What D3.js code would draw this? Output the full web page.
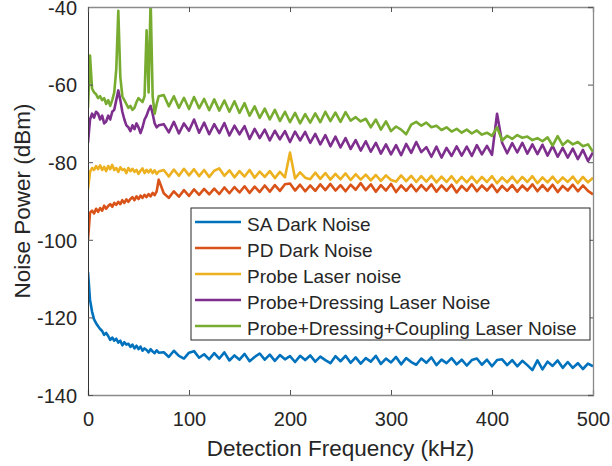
<!DOCTYPE html>
<html>
<head>
<meta charset="utf-8">
<script src="https://cdn.jsdelivr.net/npm/d3@7"></script>
<style>
  body { margin: 0; background: #fff; }
  text { font-family: "Liberation Sans", Arial, sans-serif; fill: #262626; }
</style>
</head>
<body>
<div id="chart"></div>
<script>
// sample frequencies (kHz), finer below 70 kHz where the spikes are
var freq = [0,2,4,6,8,10,12,14,16,18,
  20,22,24,26,28,30,32,34,36,38,
  40,42,44,46,48,50,52,54,56,58,
  60,62,64,66,68,70,
  75,80,85,90,95,100,105,110,115,120,
  125,130,135,140,145,150,155,160,165,170,
  175,180,185,190,195,200,205,210,215,220,
  225,230,235,240,245,250,255,260,265,270,
  275,280,285,290,295,300,305,310,315,320,
  325,330,335,340,345,350,355,360,365,370,
  375,380,385,390,395,400,405,410,415,420,
  425,430,435,440,445,450,455,460,465,470,
  475,480,485,490,495,500];

var saDark = [-108.3,-115.5,-118.5,-120.5,-121.5,-122.3,-123,-123.5,-124.5,-124,
  -124.8,-125.8,-125.2,-126,-125.5,-126.5,-126,-127.2,-126.4,-127,
  -126.8,-127.6,-127,-128,-127.3,-128.2,-127.5,-128.6,-128,-128.4,
  -129,-128.2,-128.8,-129.2,-128.5,-129.1,
  -129.0,-130.2,-128.6,-129.9,-130.6,-129.1,-128.7,-130.4,-129.5,-130.8,
  -129.2,-130.6,-129.0,-131.1,-129.8,-130.9,-129.4,-131.3,-130.2,-129.3,
  -130.9,-129.6,-131.2,-129.7,-130.8,-130.0,-131.5,-129.9,-131.0,-129.8,
  -131.4,-130.1,-131.0,-131.8,-130.0,-131.3,-129.9,-131.7,-130.3,-131.9,
  -130.5,-131.4,-129.9,-132.0,-130.6,-131.6,-130.2,-132.1,-130.5,-131.5,
  -132.2,-130.6,-131.7,-130.3,-132.3,-130.9,-131.8,-130.5,-132.1,-130.9,
  -132.4,-131.0,-130.6,-132.2,-130.9,-132.6,-131.0,-130.8,-132.3,-131.0,
  -132.6,-131.2,-132.3,-133.6,-131.1,-133.4,-131.4,-132.5,-131.1,-133.0,
  -131.5,-133.0,-131.8,-133.3,-131.9,-132.6];

var pdDark = [-100,-93,-92.5,-93.2,-92,-92.8,-91.8,-92.5,-91.2,-92,
  -91.3,-90.8,-91.5,-90.5,-91,-90.2,-90.8,-89.8,-90.5,-89.6,
  -90.2,-89.5,-89,-89.8,-88.8,-89.5,-88.6,-89.2,-88.4,-89,
  -88.2,-88.8,-87.9,-88.5,-87.5,-84.5,
  -88.0,-89.2,-87.5,-88.9,-87.2,-88.7,-87.0,-88.4,-86.9,-88.3,
  -86.8,-88.2,-86.5,-88.0,-86.4,-87.8,-86.2,-87.9,-86.3,-87.7,
  -86.0,-87.6,-85.9,-87.4,-85.7,-85.5,-87.3,-85.8,-87.5,-86.0,
  -87.4,-85.7,-87.2,-85.6,-87.3,-85.9,-87.5,-85.8,-87.1,-85.4,
  -87.2,-85.7,-87.6,-85.9,-87.3,-85.6,-87.7,-86.0,-87.4,-85.8,
  -87.5,-85.9,-87.3,-85.7,-87.6,-86.0,-87.4,-85.8,-87.8,-86.1,
  -87.4,-85.7,-87.5,-86.0,-87.3,-85.8,-87.7,-86.1,-87.4,-85.9,
  -87.6,-86.0,-87.3,-85.7,-87.5,-85.9,-87.4,-85.8,-87.7,-86.1,
  -87.3,-85.8,-87.5,-86.0,-87.4,-88.3];

var probe = [-87,-82.5,-81.5,-82,-81,-81.8,-80.8,-82,-81.2,-82.3,
  -81,-81.8,-80.7,-82,-81.5,-82.5,-81.3,-82,-81.8,-82.8,
  -81.5,-82.3,-81.7,-82.5,-82,-83,-82.2,-81.6,-82.8,-82,
  -82.6,-81.9,-82.8,-82.1,-83,-82.4,
  -82.0,-83.7,-81.9,-83.5,-81.7,-83.4,-81.8,-83.6,-82.0,-83.8,
  -82.2,-81.6,-83.5,-82.1,-83.9,-82.3,-83.7,-82.0,-84.0,-82.4,
  -83.8,-82.3,-84.1,-82.5,-83.9,-77.5,-84.2,-82.6,-84.0,-84.4,
  -82.7,-84.3,-82.8,-84.5,-83.0,-84.4,-82.9,-84.6,-83.1,-84.5,
  -83.2,-84.7,-83.3,-84.8,-83.4,-84.6,-85.0,-83.4,-84.9,-83.5,
  -85.1,-83.6,-85.0,-83.5,-85.2,-83.7,-85.1,-83.6,-85.3,-83.8,
  -85.2,-83.7,-85.3,-83.8,-85.1,-83.6,-85.4,-83.9,-85.2,-83.7,
  -85.3,-83.8,-85.1,-83.6,-85.4,-83.9,-85.2,-83.7,-85.3,-83.9,
  -85.1,-83.7,-85.4,-83.8,-85.2,-84.0];

var probeDressing = [-75,-69,-67.5,-68.5,-67,-67.5,-69,-68,-70,-69.5,
  -68,-69,-67,-66.5,-64,-61.5,-64,-67,-69,-70.5,
  -71,-72,-70.5,-71.5,-70,-71,-72.5,-71,-69,-68,
  -66.5,-65.5,-67.5,-70,-71,-70.5,
  -70.2,-72.3,-69.6,-72.6,-70.0,-71.9,-69.0,-72.4,-69.8,-72.8,
  -70.2,-72.5,-69.9,-73.1,-70.6,-72.8,-70.7,-74.0,-71.4,-73.8,
  -71.6,-74.4,-71.9,-74.1,-72.0,-74.8,-72.1,-74.4,-72.2,-75.0,
  -72.7,-75.4,-73.0,-75.9,-73.4,-76.2,-73.8,-76.6,-74.3,-77.0,
  -74.6,-77.3,-75.0,-77.8,-75.4,-78.0,-75.6,-78.2,-75.3,-77.6,
  -74.8,-77.4,-76.1,-78.6,-76.0,-78.8,-76.3,-78.4,-75.9,-78.3,
  -76.0,-78.4,-75.6,-78.0,-75.8,-78.1,-67.5,-75.0,-77.7,-75.1,
  -77.5,-75.0,-77.8,-75.4,-77.9,-75.5,-78.3,-75.8,-78.6,-76.3,
  -78.8,-76.5,-79.2,-76.8,-79.7,-77.5];

var probeDressingCoupling = [-66,-52.5,-61,-62,-62.5,-63.5,-63,-64,-63.5,-65,
  -64,-65.5,-64,-62,-56,-41,-58,-63,-64,-65,
  -66,-65.5,-66.5,-66,-64.5,-63.5,-64,-64.5,-63,-46,
  -62,-38,-63,-67.5,-65,-63,
  -62.7,-65.6,-63.0,-66.0,-63.4,-66.3,-63.2,-66.1,-63.7,-66.6,
  -63.8,-66.7,-64.1,-67.0,-64.3,-67.3,-64.8,-68.0,-65.6,-68.6,
  -66.2,-69.0,-66.5,-69.4,-67.0,-69.7,-67.3,-70.0,-67.6,-69.8,
  -67.4,-69.7,-67.0,-69.4,-67.2,-69.6,-67.1,-69.3,-68.4,-69.5,
  -68.8,-71.0,-69.0,-71.6,-69.5,-72.0,-70.8,-71.6,-72.8,-70.3,
  -69.6,-70.6,-69.8,-71.0,-70.6,-71.7,-71.0,-72.1,-71.4,-72.4,
  -71.6,-72.6,-71.8,-72.9,-72.4,-73.2,-71.0,-74.4,-73.2,-74.0,
  -73.0,-73.7,-73.4,-74.3,-73.8,-74.6,-73.6,-75.7,-73.3,-75.6,
  -74.4,-75.4,-74.8,-75.9,-75.4,-77.3];

var seriesNames = ["SA Dark Noise", "PD Dark Noise", "Probe Laser noise",
  "Probe+Dressing Laser Noise", "Probe+Dressing+Coupling Laser Noise"];
var xTicks = [0, 100, 200, 300, 400, 500];
var yTicks = [-140, -120, -100, -80, -60, -40];

var allSeries = [saDark, pdDark, probe, probeDressing, probeDressingCoupling];
var colors = ["#0072BD", "#D95319", "#EDB120", "#7E2F8E", "#77AC30"];

var width = 612;
var height = 466;
var margin = { top: 7, left: 88, right: 19, bottom: 71 };
var plotWidth = width - margin.left - margin.right;
var plotHeight = height - margin.top - margin.bottom;

var svg = d3.select("#chart")
  .append("svg")
    .attr("width", width)
    .attr("height", height);

var g = svg.append("g")
  .attr("transform", "translate(" + margin.left + "," + margin.top + ")");

var x = d3.scaleLinear()
  .domain([0, 500])
  .range([0, plotWidth]);

var y = d3.scaleLinear()
  .domain([-140, -40])
  .range([plotHeight, 0]);

g.append("clipPath")
  .attr("id", "plot-clip")
  .append("rect")
    .attr("width", plotWidth)
    .attr("height", plotHeight);

// data lines, drawn in legend order so green ends up on top
var line = d3.line()
  .x(function(d, i) { return x(freq[i]); })
  .y(function(d) { return y(d); });

g.append("g")
  .attr("clip-path", "url(#plot-clip)")
  .selectAll("path")
  .data(allSeries)
  .enter()
  .append("path")
    .attr("fill", "none")
    .attr("stroke", function(d, i) { return colors[i]; })
    .attr("stroke-width", 2.6)
    .attr("stroke-linejoin", "round")
    .attr("d", line);

// axes with inward ticks, matlab style box
var xAxis = d3.axisBottom(x).tickValues(xTicks).tickSize(-5).tickPadding(17);
var yAxis = d3.axisLeft(y).tickValues(yTicks).tickSize(-5).tickPadding(11)
  .tickFormat(function(d) { return d; });

var gx = g.append("g")
  .attr("transform", "translate(0," + plotHeight + ")")
  .call(xAxis);

var gy = g.append("g")
  .call(yAxis);

g.append("g")
  .call(d3.axisTop(x).tickValues(xTicks).tickSize(-5).tickFormat(""));

g.append("g")
  .attr("transform", "translate(" + plotWidth + ",0)")
  .call(d3.axisRight(y).tickValues(yTicks).tickSize(-5).tickFormat(""));

g.selectAll(".domain").attr("stroke", "#8a8a8a").attr("stroke-width", 1.3);
g.selectAll(".tick line").attr("stroke", "#555");
gy.select(".domain").attr("stroke", "#333").attr("stroke-width", 1);

gx.selectAll("text").style("font-size", "20px").attr("fill", "#262626");
gy.selectAll("text").style("font-size", "20px").attr("fill", "#262626")
  .attr("dy", "0.36em");

// axis titles
svg.append("text")
  .attr("x", margin.left + plotWidth / 2)
  .attr("y", 456)
  .attr("text-anchor", "middle")
  .style("font-size", "22.5px")
  .text("Detection Frequency (kHz)");

svg.append("text")
  .attr("transform", "translate(30," + (margin.top + plotHeight / 2) + ") rotate(-90)")
  .attr("text-anchor", "middle")
  .style("font-size", "22.5px")
  .text("Noise Power (dBm)");

// legend
var legend = svg.append("g")
  .attr("transform", "translate(191,208)");

legend.append("rect")
  .attr("width", 399)
  .attr("height", 132)
  .attr("fill", "#fff")
  .attr("stroke", "#262626")
  .attr("stroke-width", 1);

var entry = legend.selectAll(".entry")
  .data(seriesNames)
  .enter()
  .append("g")
    .attr("class", "entry")
    .attr("transform", function(d, i) { return "translate(0," + (14 + i * 26) + ")"; });

entry.append("line")
  .attr("x1", 4)
  .attr("x2", 50)
  .attr("stroke", function(d, i) { return colors[i]; })
  .attr("stroke-width", 2.6);

entry.append("text")
  .attr("x", 56)
  .attr("y", 9)
  .style("font-size", "19px")
  .text(function(d) { return d; });
</script>
</body>
</html>
